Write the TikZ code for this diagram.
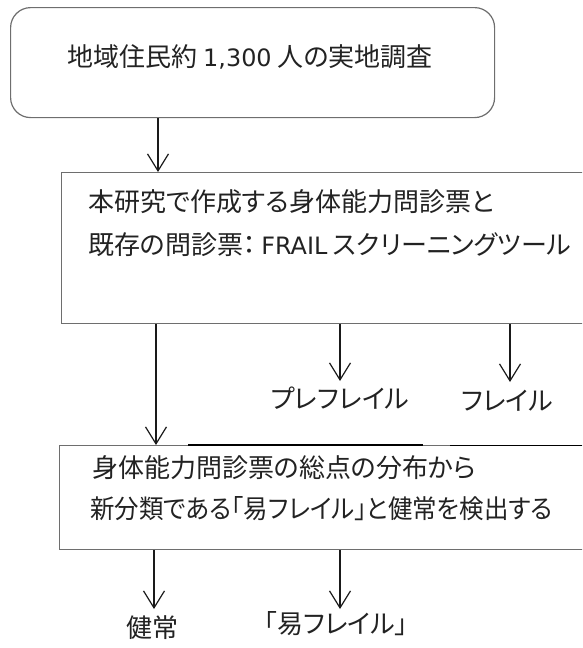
\documentclass[tikz,border=0pt]{standalone}
\usepackage{fontspec}
\newfontfamily\jp[RawFeature=+palt]{Noto Sans CJK JP}
\newfontfamily\lat[Scale=0.92]{DejaVu Sans}
\usetikzlibrary{arrows.meta}
\definecolor{txt}{HTML}{222222}
\definecolor{bord}{HTML}{6E6E6E}
\definecolor{arrc}{HTML}{1A1A1A}
\tikzset{
  box/.style={draw=bord, line width=1.2pt, inner sep=0pt, anchor=north west},
  rbox/.style={box, rounded corners=20pt},
  lbl/.style={font=\jp\fontsize{26}{30}\selectfont, text=txt, inner sep=0pt, text height=0.88em, text depth=0.12em},
  arr/.style={draw=arrc, line width=1.2pt, -{Straight Barb[length=17pt,width=21pt]}},
}
\begin{document}
\begin{tikzpicture}[x=1pt,y=-1pt]
\useasboundingbox (0,0) rectangle (582,648);
\clip (0,0) rectangle (582,648);
% boxes
\node[rbox, minimum width=484pt, minimum height=110pt] (b1) at (10,7) {};
\node[box, minimum width=540pt, minimum height=151pt] (b2) at (61,172) {};
\node[box, minimum width=541pt, minimum height=104pt] (b3) at (59,445) {};
% stray lines on top edge of box 3
\draw[line width=2.6pt, black] (188,445) -- (423,445);
\draw[line width=1pt, black] (450,445) -- (582,445);
% texts
\node[lbl] (t1) at (250,63) {地域住民約 {\lat 1,300} 人の実地調査};
\node[lbl, anchor=west] (t2a) at (88,208) {本研究で作成する身体能力問診票と};
\node[lbl, anchor=west] (t2b) at (88,251) {既存の問診票：\hspace{5pt}{\lat FRAIL} スクリーニングツール};
\node[lbl, anchor=west] (t3a) at (92,474) {身体能力問診票の総点の分布から};
\node[lbl, anchor=west] (t3b) at (90,515) {\scalebox{0.94}[1]{新分類である「易フレイル」と健常を検出する}};
\node[lbl] (pre) at (340,405) {プレフレイル};
\node[lbl] (fr) at (507,407) {フレイル};
\node[lbl] (ken) at (152,634) {健常};
\node[lbl] (eki) at (336,630) {「易フレイル」};
% arrow ends
\coordinate (ep) at (340,381);
\coordinate (ef) at (510,382);
\coordinate (ek) at (154,609);
\coordinate (ee) at (340,609);
% connectors
\draw[arr] (b1.south -| 158,0) -- (b2.north -| 158,0);
\draw[arr] (b2.south -| 156,0) -- (b3.north -| 156,0);
\draw[arr] (b2.south -| ep) -- (ep);
\draw[arr] (b2.south -| ef) -- (ef);
\draw[arr] (b3.south -| ek) -- (ek);
\draw[arr] (b3.south -| ee) -- (ee);
\end{tikzpicture}
\end{document}
